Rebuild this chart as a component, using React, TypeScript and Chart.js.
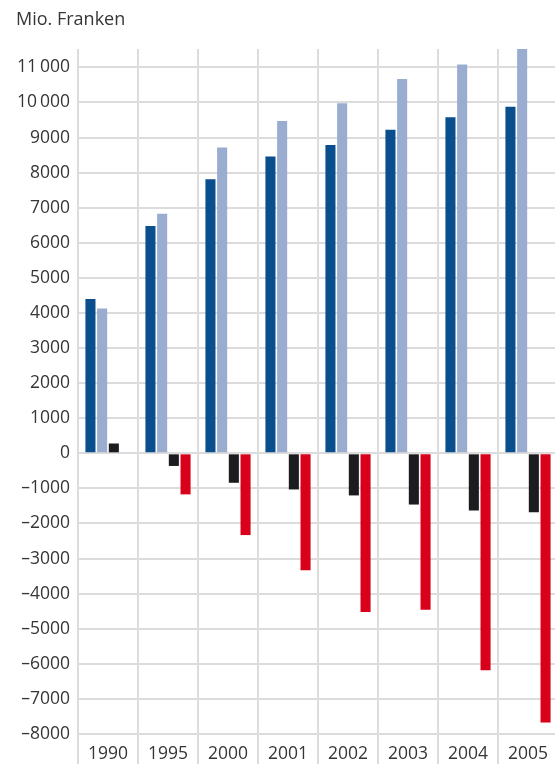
import { useEffect, useRef } from 'react';
import { Chart, registerables } from 'chart.js';

Chart.register(...registerables);

const years = ['1990', '1995', '2000', '2001', '2002', '2003', '2004', '2005'];
const seriesA = [4400, 6480, 7810, 8460, 8790, 9220, 9580, 9880];
const seriesB = [4130, 6830, 8720, 9470, 9980, 10670, 11080, 11700];
const seriesC = [280, -360, -840, -1030, -1200, -1460, -1630, -1680];
const seriesD = [null, -1170, -2330, -3330, -4520, -4460, -6180, -7670];
const yTickValues = [
  -8000, -7000, -6000, -5000, -4000, -3000, -2000, -1000, 0,
  1000, 2000, 3000, 4000, 5000, 6000, 7000, 8000, 9000, 10000, 11000,
];

const GRID = '#dcdcdc';
const TEXT = '#363636';
const FONT = { family: '"Open Sans", sans-serif', size: 17.5 };

const fmt = (v: number) => {
  const a = Math.abs(v);
  let s = String(a);
  if (a >= 10000) s = s.slice(0, -3) + '\u2009' + s.slice(-3);
  return (v < 0 ? '\u2013' : '') + s;
};

export default function App() {
  const ref = useRef<HTMLCanvasElement>(null);
  useEffect(() => {
    const chart = new Chart(ref.current as HTMLCanvasElement, {
      type: 'bar',
      data: {
        labels: years,
        datasets: [
          { data: seriesA, backgroundColor: '#0a4e8e' },
          { data: seriesB, backgroundColor: '#9aadd0' },
          { data: seriesC, backgroundColor: '#1b1b20' },
          { data: seriesD as any, backgroundColor: '#d9001b' },
        ].map((d) => ({ ...d, categoryPercentage: 0.78, barPercentage: 0.86, borderWidth: 0 })),
      },
      options: {
        responsive: false,
        animation: false,
        layout: { padding: { top: 49, left: 0, right: 0, bottom: 0 } },
        plugins: { legend: { display: false }, tooltip: { enabled: false }, title: { display: false } },
        scales: {
          x: {
            grid: { offset: true, color: GRID, lineWidth: 2, tickLength: 30, tickColor: GRID, drawTicks: true },
            border: { display: false },
            ticks: { padding: -20, font: FONT, color: TEXT, maxRotation: 0, autoSkip: false },
            afterFit: (s: any) => { s.height = 30; },
          },
          y: {
            min: -8000,
            max: 11524,
            ticks: { padding: 8, font: FONT, color: TEXT, autoSkip: false, callback: (v: any) => fmt(Number(v)) },
            afterBuildTicks: (s: any) => { s.ticks = yTickValues.map((value) => ({ value })); },
            grid: { drawTicks: false, color: GRID, lineWidth: 2 },
            border: { display: false },
            afterFit: (s: any) => { s.width = 78; },
          },
        },
      },
    });
    return () => chart.destroy();
  }, []);

  return (
    <div style={{ position: 'absolute', left: 0, top: 0, width: 555, height: 764, overflow: 'hidden', background: '#fff' }}>
      <div style={{ position: 'absolute', left: 16, top: 8, fontFamily: '"Open Sans", sans-serif', fontSize: 18, lineHeight: '20px', color: TEXT, whiteSpace: 'nowrap' }}>
        Mio. Franken
      </div>
      <canvas ref={ref} width={558} height={764} style={{ display: 'block' }} />
    </div>
  );
}
